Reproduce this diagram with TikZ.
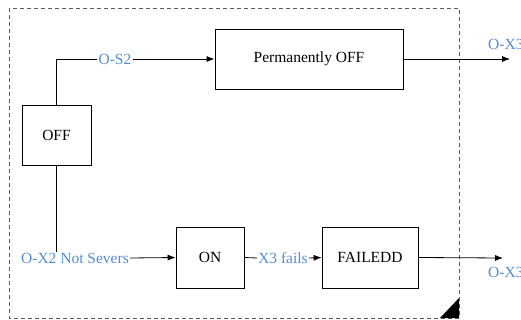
\documentclass[tikz,border=0pt]{standalone}
\usepackage{fontspec}
\setmainfont{Liberation Serif}
\usetikzlibrary{arrows.meta}
\definecolor{lbl}{RGB}{84,141,212}
\definecolor{frame}{RGB}{90,90,90}
\tikzset{
  state/.style={draw, line width=0.8pt, minimum width=#1, minimum height=60pt, inner sep=0pt, font=\fontsize{15.5}{17}\selectfont},
  trans/.style={text=lbl, inner sep=1pt, font=\fontsize{15.5}{17}\selectfont},
  wire/.style={line width=0.8pt},
  arr/.style={wire, -{Latex[length=8pt,width=6pt]}}
}
\begin{document}
\begin{tikzpicture}[x=1pt,y=-1pt]
\useasboundingbox (0,0) rectangle (521,320);
% enclosing region
\draw[frame, dashed, line width=0.9pt, dash pattern=on 4pt off 3pt] (9,8) rectangle (459,318);
\fill (440,318) -- (459,318) -- (459,298) -- cycle;

% states
\node[state=69pt] (off) at (56.5,135) {OFF};
\node[state=188pt] (perm) at (309,59) {Permanently OFF};
\node[state=68pt, minimum height=61pt] (on) at (210,257.5) {ON};
\node[state=96pt, minimum height=61pt] (fail) at (370,257.5) {FAILEDD};

% transition labels
\node[trans] (os2) at (115,59) {O-S2};
\node[trans] (notsev) at (75,258) {O-X2 Not Severs};
\node[trans] (x3f) at (283,258) {X3 fails};
\node[trans, anchor=west] (ox3a) at (487,44) {O-X3};
\node[trans, anchor=west] (ox3b) at (487,272) {O-X3};

\coordinate (outa) at (510,59);
\coordinate (outb) at (503,258);

% transitions
\draw[wire] (off.north) |- (os2.west);
\draw[arr] (os2.east) -- (perm.west);
\draw[wire] (off.south) -- (off.south |- notsev.north);
\draw[arr] (notsev.east) -- (on.west);
\draw[wire] (on.east) -- (x3f.west);
\draw[arr] (x3f.east) -- (fail.west);
\draw[arr] (perm.east) -- (outa);
\draw[arr] (fail.east) -- (outb);
\end{tikzpicture}
\end{document}
